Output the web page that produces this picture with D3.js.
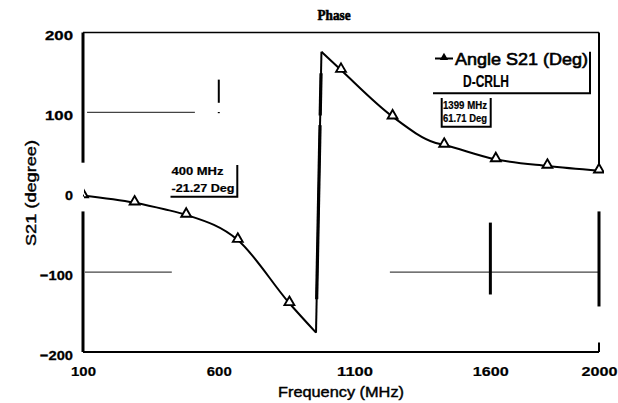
<!DOCTYPE html>
<html><head><meta charset="utf-8">
<script src="https://cdn.jsdelivr.net/npm/d3@7"></script>
<style>html,body{margin:0;padding:0;background:#fff}svg{display:block}</style>
</head><body><svg id="c" width="618" height="403"></svg>
<script>
// ---- data ----
const freqLeft  = [100, 290, 400, 480, 670, 860, 958];
const phaseLeft = [-4, -13.1, -21.27, -28.3, -59.8, -139, -175.8];
const freqRight  = [978, 1050, 1240, 1399, 1430, 1620, 1810, 2000];
const phaseRight = [176, 153, 94.6, 61.71, 59.2, 41.2, 32.9, 27];
const markerFreqs = [100, 290, 480, 670, 860, 1050, 1240, 1430, 1620, 1810, 2000];
const xTicks = [100, 600, 1100, 1600, 2000];
const yTicks = [200, 100, 0, -100, -200];
const seriesName = "Angle S21 (Deg)";
const seriesSub = "D-CRLH";
const markers = [
  {f: 400, v: -21.27, l1: "400 MHz", l2: "-21.27 Deg"},
  {f: 1399, v: 61.71, l1: "1399 MHz", l2: "61.71 Deg"}
];
// partial grid fragments visible in the picture [f1, v1, f2, v2, width]
const gridBits = [
  [115, 100, 512, 100, 1.2],
  [600, 141, 600, 112, 2],
  [600, 100.5, 600, 99, 2],
  [107, -100, 427, -100, 1.2],
  [1230, -100, 2000, -100, 1.2],
  [1600, -38, 1600, -128, 3]
];
// heavier parts of the jump trace, as phase ranges
const jumpThick = [[149, 96], [84, -134]];
// frame segments [f1, v1, f2, v2, width]
const frameBits = [
  [100, 200, 2000, 200, 1.5],
  [100, -200, 2000, -200, 2],
  [100, 200, 100, 37, 3],
  [100, -24, 100, -200, 3],
  [2000, 200, 2000, 25.6, 2],
  [2000, -24, 2000, -143, 3],
  [2000, -188, 2000, -200, 2]
];

const svg = d3.select("#c");
const x = d3.scaleLinear().domain([100, 2000]).range([83, 599]);
const y = d3.scaleLinear().domain([-200, 200]).range([352, 32.5]);
const F = "'Liberation Sans', Arial, sans-serif";

function segs(data) {
  return svg.append("g").selectAll("line").data(data).join("line")
    .attr("x1", d => x(d[0])).attr("y1", d => y(d[1]))
    .attr("x2", d => x(d[2])).attr("y2", d => y(d[3]))
    .attr("stroke-width", d => d[4]);
}
segs(gridBits).attr("stroke", d => d[4] > 1.5 ? "#000" : "#444");
segs(frameBits).attr("stroke", "#000");

// axes labels via d3 axes (no lines)
const yAxis = svg.append("g").attr("transform", `translate(${x(100)},0)`)
  .call(d3.axisLeft(y).tickValues(yTicks).tickSize(0).tickPadding(10));
yAxis.select(".domain").remove();
yAxis.selectAll("text").attr("font-family", F).attr("font-size", 13.5).attr("font-weight", "bold")
  .attr("fill", "#000").attr("stroke", "#000").attr("stroke-width", 0.3)
  .attr("dy", "0.55em").attr("textLength", d => d === 0 ? 8 : (d < 0 ? 33 : 28)).attr("lengthAdjust", "spacingAndGlyphs");

const xAxis = svg.append("g").attr("transform", `translate(0,${y(-200)})`)
  .call(d3.axisBottom(x).tickValues(xTicks).tickSize(0).tickPadding(14).tickFormat(d3.format("d")));
xAxis.select(".domain").remove();
xAxis.selectAll("text").attr("font-family", F).attr("font-size", 13.5).attr("font-weight", "bold")
  .attr("fill", "#000").attr("stroke", "#000").attr("stroke-width", 0.2)
  .attr("textLength", d => d >= 1000 ? 36 : 25).attr("lengthAdjust", "spacingAndGlyphs");

// title & axis titles
svg.append("text").attr("x", 334).attr("y", 20).attr("text-anchor", "middle")
  .attr("font-family", "'Liberation Serif', 'Times New Roman', serif").attr("font-weight", "bold")
  .attr("font-size", 15).attr("fill", "#000").attr("stroke", "#000").attr("stroke-width", 0.6)
  .attr("textLength", 33).attr("lengthAdjust", "spacingAndGlyphs").text("Phase");
svg.append("text").attr("x", 341).attr("y", 397).attr("text-anchor", "middle")
  .attr("font-family", F).attr("font-size", 14).attr("fill", "#000").attr("stroke", "#000").attr("stroke-width", 0.4)
  .attr("textLength", 126).attr("lengthAdjust", "spacingAndGlyphs").text("Frequency (MHz)");
svg.append("text").attr("transform", "translate(36,193) rotate(-90)").attr("text-anchor", "middle")
  .attr("font-family", F).attr("font-size", 14).attr("fill", "#000").attr("stroke", "#000").attr("stroke-width", 0.4)
  .attr("textLength", 106).attr("lengthAdjust", "spacingAndGlyphs").text("S21 (degree)");

// data line
const line = d3.line().x(d => x(d[0])).y(d => y(d[1])).curve(d3.curveMonotoneX);
const left = freqLeft.map((f, i) => [f, phaseLeft[i]]);
const right = freqRight.map((f, i) => [f, phaseRight[i]]);
const all = left.concat(right);
const g = svg.append("g");
g.append("path").attr("d", line(left)).attr("fill", "none").attr("stroke", "#000").attr("stroke-width", 2);
g.append("path").attr("d", line(right)).attr("fill", "none").attr("stroke", "#000").attr("stroke-width", 2);
const jA = left[left.length - 1], jB = right[0];
const jf = v => jA[0] + (jB[0] - jA[0]) * (v - jA[1]) / (jB[1] - jA[1]);
g.append("line").attr("x1", x(jA[0])).attr("y1", y(jA[1])).attr("x2", x(jB[0])).attr("y2", y(jB[1]))
  .attr("stroke", "#000").attr("stroke-width", 2);
g.selectAll("line.thick").data(jumpThick).join("line").attr("class", "thick")
  .attr("x1", d => x(jf(d[0]))).attr("y1", d => y(d[0]))
  .attr("x2", d => x(jf(d[1]))).attr("y2", d => y(d[1]))
  .attr("stroke", "#000").attr("stroke-width", 3.2);

// markers
svg.append("clipPath").attr("id", "clip").append("rect")
  .attr("x", x(100) + 1).attr("y", y(200)).attr("width", x(2000) - x(100) + 4).attr("height", y(-200) - y(200));
const tri = d3.symbol().type(d3.symbolTriangle).size(42);
const mk = markerFreqs.map(f => all.find(d => d[0] === f));
svg.append("g").attr("clip-path", "url(#clip)").selectAll("path").data(mk).join("path")
  .attr("transform", d => `translate(${x(d[0])},${y(d[1]) - 1})`)
  .attr("d", tri).attr("fill", "#fff").attr("stroke", "#000").attr("stroke-width", 1.9);

// legend
const lg = svg.append("g");
lg.append("line").attr("x1", 435).attr("x2", 453).attr("y1", 58.5).attr("y2", 58.5).attr("stroke", "#000").attr("stroke-width", 2);
lg.append("path").attr("transform", "translate(444,57.5)").attr("d", d3.symbol().type(d3.symbolTriangle).size(30)).attr("fill", "#000");
lg.append("text").attr("x", 455).attr("y", 64.5).attr("font-family", F).attr("font-size", 16)
  .attr("fill", "#000").attr("stroke", "#000").attr("stroke-width", 0.6)
  .attr("textLength", 133).attr("lengthAdjust", "spacingAndGlyphs").text(seriesName);
lg.append("text").attr("x", 463).attr("y", 86.5).attr("font-family", F).attr("font-size", 16).attr("font-weight", "bold")
  .attr("fill", "#000").attr("stroke", "#000").attr("stroke-width", 0.2)
  .attr("textLength", 46).attr("lengthAdjust", "spacingAndGlyphs").text(seriesSub);
lg.append("path").attr("d", "M433,93.3H590V51.7").attr("fill", "none").attr("stroke", "#000").attr("stroke-width", 2);

// marker readout boxes
function readout(m, tx, y1, y2, w1, w2, box) {
  const a = svg.append("g");
  a.append("text").attr("x", tx).attr("y", y1).attr("font-family", F).attr("font-size", 10).attr("font-weight", "bold")
    .attr("fill", "#000").attr("stroke", "#000").attr("stroke-width", 0.2)
    .attr("textLength", w1).attr("lengthAdjust", "spacingAndGlyphs").text(m.l1);
  a.append("text").attr("x", tx).attr("y", y2).attr("font-family", F).attr("font-size", 10).attr("font-weight", "bold")
    .attr("fill", "#000").attr("stroke", "#000").attr("stroke-width", 0.2)
    .attr("textLength", w2).attr("lengthAdjust", "spacingAndGlyphs").text(m.l2);
  a.append("path").attr("d", box).attr("fill", "none").attr("stroke", "#000").attr("stroke-width", 2);
}
readout(markers[0], 171.5, 175, 191.5, 52, 63, "M170.5,196.7H237.3V165");
readout(markers[1], 443, 108.5, 121.5, 44, 44, "M441.7,98V126.7H490.7V98");
</script></body></html>
